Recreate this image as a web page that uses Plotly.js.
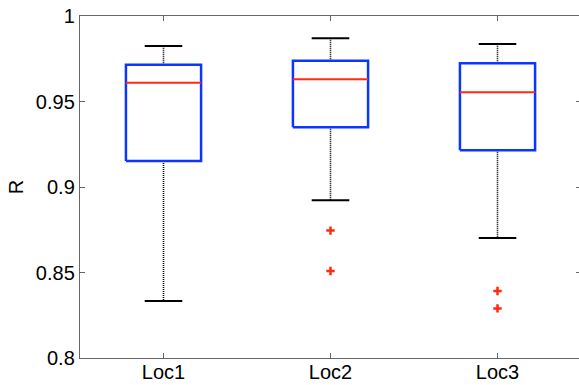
<!DOCTYPE html>
<html>
<head>
<meta charset="utf-8">
<script src="https://cdn.plot.ly/plotly-3.0.1.min.js"></script>
<style>
html,body{margin:0;padding:0;overflow:hidden;background:#fff;}
#chart{width:581px;height:385px;}
</style>
</head>
<body>
<div id="chart"></div>
<script>
// Data
const categories = ["Loc1", "Loc2", "Loc3"];
const upperWhisker = [0.9825, 0.9870, 0.9836];
const q3 = [0.9715, 0.9739, 0.9723];
const median = [0.9610, 0.9630, 0.9554];
const q1 = [0.9152, 0.9349, 0.9215];
const lowerWhisker = [0.8333, 0.8922, 0.8702];
const outlierGroup = [2, 2, 3, 3];
const outlierValues = [0.8745, 0.8509, 0.8392, 0.8290];

const pos = categories.map((c, i) => i + 1);
const boxHalf = 0.225;
const capHalf = 0.1125;

function segs(fn) {
  const xs = [], ys = [];
  pos.forEach((p, i) => {
    const s = fn(p, i);
    xs.push(...s.x, null);
    ys.push(...s.y, null);
  });
  return {x: xs, y: ys};
}

const whiskUp = segs((p, i) => ({x: [p, p], y: [q3[i], upperWhisker[i]]}));
const whiskLo = segs((p, i) => ({x: [p, p], y: [q1[i], lowerWhisker[i]]}));
const capUp = segs((p, i) => ({x: [p - capHalf, p + capHalf], y: [upperWhisker[i], upperWhisker[i]]}));
const capLo = segs((p, i) => ({x: [p - capHalf, p + capHalf], y: [lowerWhisker[i], lowerWhisker[i]]}));
const boxes = segs((p, i) => ({
  x: [p - boxHalf, p + boxHalf, p + boxHalf, p - boxHalf, p - boxHalf],
  y: [q1[i], q1[i], q3[i], q3[i], q1[i]]
}));
const meds = segs((p, i) => ({x: [p - boxHalf, p + boxHalf], y: [median[i], median[i]]}));

const dotted = {color: '#000', width: 1.6, dash: '1px,1px'};
const traces = [
  {type: 'scatter', mode: 'lines', x: whiskUp.x, y: whiskUp.y, line: dotted, hoverinfo: 'skip'},
  {type: 'scatter', mode: 'lines', x: whiskLo.x, y: whiskLo.y, line: dotted, hoverinfo: 'skip'},
  {type: 'scatter', mode: 'lines', x: capUp.x, y: capUp.y, line: {color: '#000', width: 2}, hoverinfo: 'skip'},
  {type: 'scatter', mode: 'lines', x: capLo.x, y: capLo.y, line: {color: '#000', width: 2}, hoverinfo: 'skip'},
  {type: 'scatter', mode: 'lines', x: boxes.x, y: boxes.y, line: {color: '#0a36ff', width: 2.5}, hoverinfo: 'skip'},
  {type: 'scatter', mode: 'lines', x: meds.x, y: meds.y, line: {color: '#ff2a10', width: 2}, hoverinfo: 'skip'},
  {type: 'scatter', mode: 'markers', x: outlierGroup, y: outlierValues,
   marker: {symbol: 'cross-thin', size: 6, line: {color: '#ff2a10', width: 2.5}}, hoverinfo: 'skip'}
];

const font = {family: 'Liberation Sans, Arial, sans-serif', size: 20, color: '#000'};
const layout = {
  width: 581, height: 385,
  margin: {l: 80, r: 0, t: 16, b: 27},
  paper_bgcolor: '#fff', plot_bgcolor: '#fff',
  showlegend: false,
  font: font,
  xaxis: {
    range: [0.5, 3.5],
    tickvals: pos, ticktext: categories,
    ticks: 'inside', ticklen: 5, tickcolor: '#666',
    showline: true, linecolor: '#666', linewidth: 1.2, mirror: 'ticks',
    showgrid: false, zeroline: false, tickfont: font,
    ticklabelstandoff: -4
  },
  yaxis: {
    range: [0.8, 1],
    tickvals: [0.8, 0.85, 0.9, 0.95, 1],
    ticktext: ['0.8', '0.85', '0.9', '0.95', '1'],
    ticks: 'inside', ticklen: 5, tickcolor: '#666',
    showline: true, linecolor: '#666', linewidth: 1.2, mirror: 'ticks',
    showgrid: false, zeroline: false, tickfont: font,
    title: {text: 'R', font: font, standoff: 6}
  }
};

Plotly.newPlot('chart', traces, layout, {staticPlot: true, displayModeBar: false});
</script>
</body>
</html>
